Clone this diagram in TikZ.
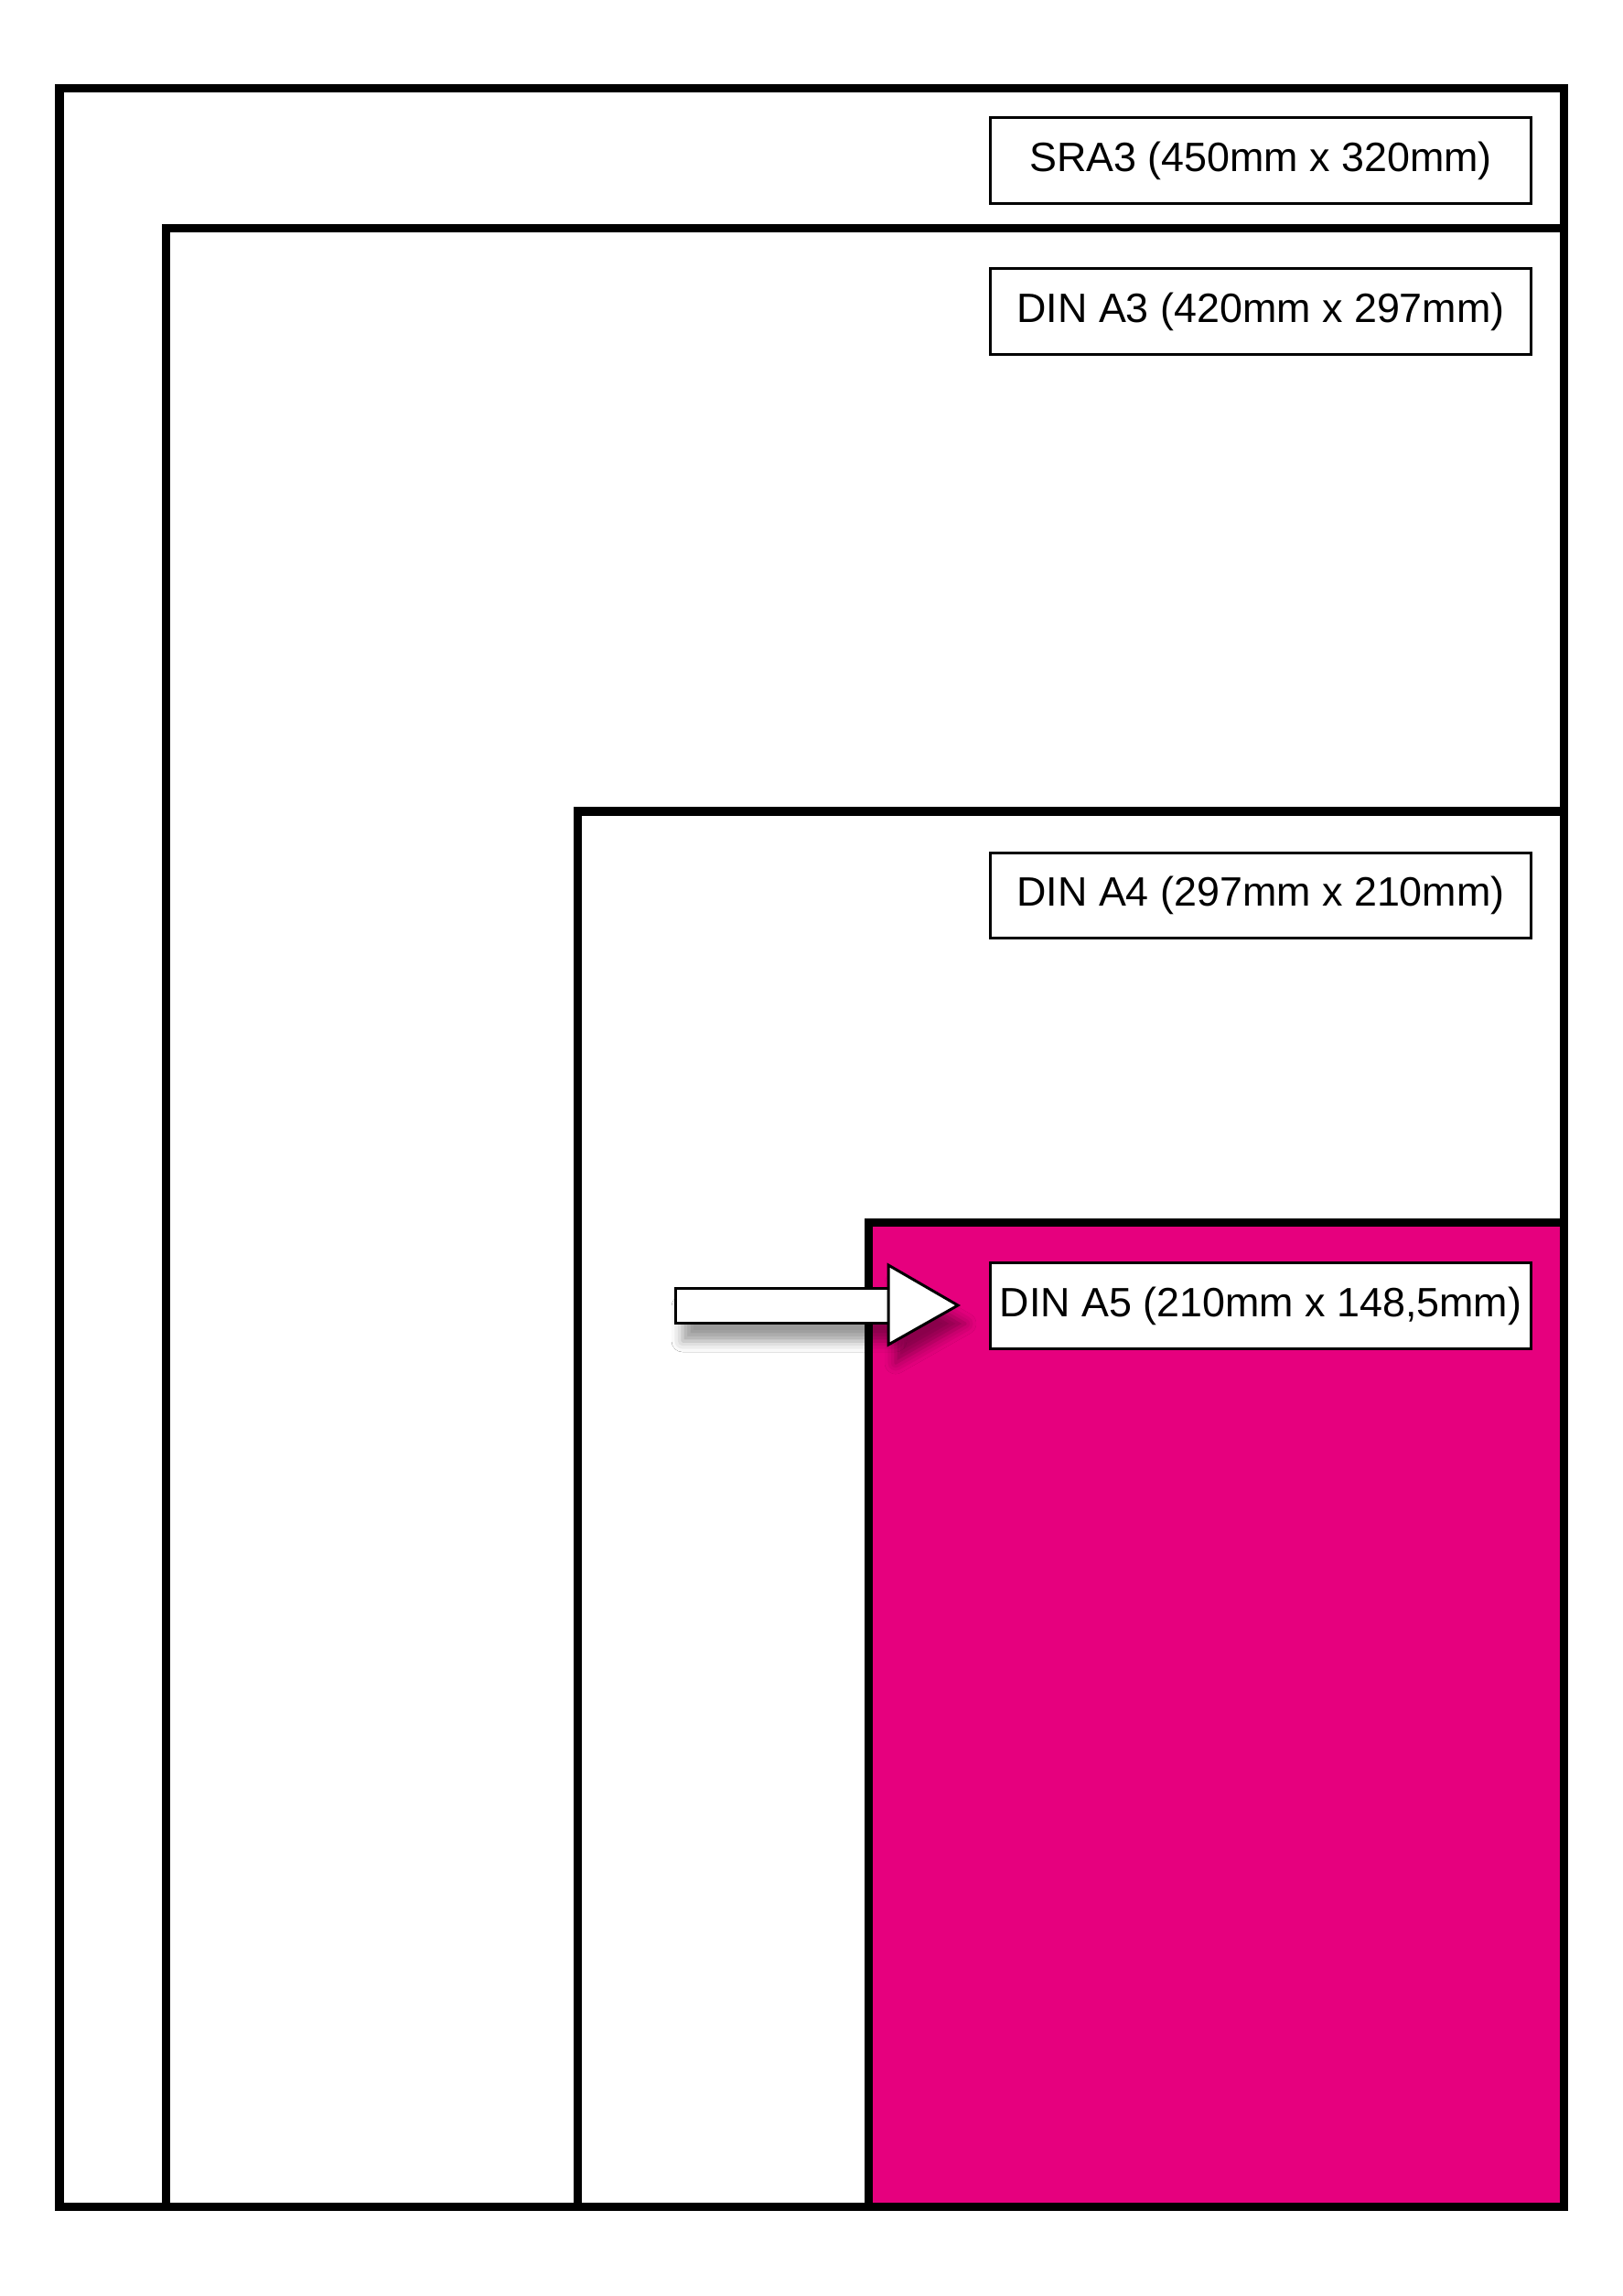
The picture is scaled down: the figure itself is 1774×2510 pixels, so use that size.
\documentclass[tikz,border=0pt]{standalone}
\usepackage{fontspec}
\setmainfont{Liberation Sans}
\usetikzlibrary{shadows.blur}
\definecolor{pagemagenta}{RGB}{230,0,126}
\tikzset{
  sheet/.style={draw=black, line width=0.09cm, line join=miter},
  labelbox/.style={draw=black, fill=white, line width=0.03cm, inner sep=0pt,
    minimum width=5.9cm, minimum height=0.93cm, font=\fontsize{12.75pt}{15pt}\selectfont},
  blockarrow/.style={draw=black, fill=white, line width=0.03cm, line join=miter,
    blur shadow={shadow xshift=0.08cm, shadow yshift=-0.2cm, shadow blur radius=0.12cm, shadow opacity=40}}
}
\begin{document}
\begin{tikzpicture}[x=0.01cm, y=-0.01cm]
\useasboundingbox (0,0) rectangle (1774,2510);
\fill[white] (0,0) rectangle (1774,2510);
% sheets
\draw[sheet, fill=white] (65,97) rectangle (1709,2412);
\draw[sheet, fill=white] (181,250) rectangle (1709,2412);
\draw[sheet, fill=white] (631,887) rectangle (1709,2412);
\draw[sheet, fill=pagemagenta] (949,1336) rectangle (1709,2412);
% labels
\node[labelbox] (sra) at (1378,175.5) {SRA3 (450mm x 320mm)};
\node[labelbox] (athree) at (1378,340.5) {DIN A3 (420mm x 297mm)};
\node[labelbox] (afour) at (1378,979) {DIN A4 (297mm x 210mm)};
\node[labelbox] (afive) at (1378,1427.5) {DIN A5 (210mm x 148,5mm)};
% block arrow
\coordinate (tailtop) at (738,1408);
\coordinate (shaftend) at (971,1446);
\coordinate (tip) at (1047,1427);
\draw[blockarrow] (tailtop) rectangle (shaftend);
\draw[blockarrow] (971,1383) -- (tip) -- (971,1470) -- cycle;
\end{tikzpicture}
\end{document}
